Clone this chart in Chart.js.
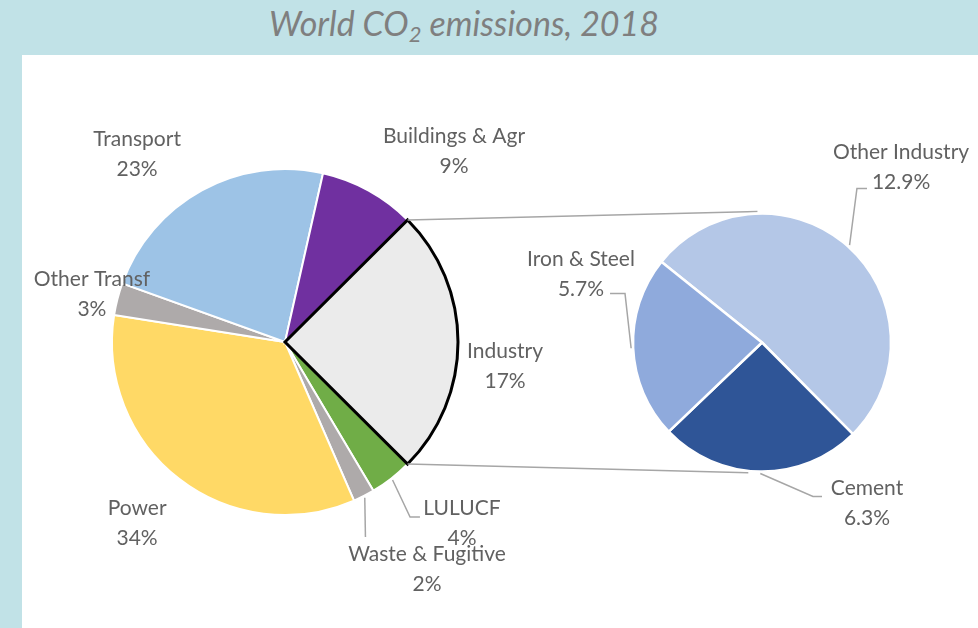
<!DOCTYPE html>
<html>
<head>
<meta charset="utf-8">
<script src="https://cdn.jsdelivr.net/npm/chart.js@4.4.0/dist/chart.umd.min.js"></script>
<style>
  html, body { margin: 0; padding: 0; }
  body { width: 978px; height: 628px; background: #c1e2e7; position: relative; overflow: hidden; font-family: Lato, sans-serif; }
  #title { position: absolute; left: 0; top: 3px; width: 928px; text-align: center; font-style: italic; font-size: 34px; line-height: 40px; color: #7f7f7f; }
  #title sub { font-size: 22px; line-height: 0; vertical-align: -6px; }
  #panel { position: absolute; left: 22px; top: 55px; width: 956px; height: 573px; background: #fff; }
  canvas { position: absolute; left: 0; top: 0; }
</style>
</head>
<body>
<div id="title">World CO<sub>2</sub> emissions, 2018</div>
<div id="panel">
  <canvas id="mainPie" width="956" height="573"></canvas>
  <canvas id="subPie" width="956" height="573"></canvas>
</div>
<script>
// main pie, clockwise; Industry last so its black outline sits on top
const mainCategories = ["LULUCF", "Waste & Fugitive", "Power", "Other Transf", "Transport", "Buildings & Agr", "Industry"];
const mainShares = [4, 2, 34, 3, 23, 9, 24.9];
const mainLabels = ["4%", "2%", "34%", "3%", "23%", "9%", "17%"];

// industry breakdown
const subCategories = ["Other Industry", "Cement", "Iron & Steel"];
const subShares = [12.9, 6.3, 5.7];
const subLabels = ["12.9%", "6.3%", "5.7%"];

const mainColors = ["#70ad47", "#aeaaaa", "#ffd966", "#aeaaaa", "#9dc3e6", "#7030a0", "#ebebeb"];
const subColors = ["#b4c7e7", "#2f5597", "#8faadc"];

// label spots and leader lines, in units of the pie radius from its centre
const mainLabelPos = [[1.023, 1.049], [0.821, 1.315], [-0.855, 1.046], [-1.116, -0.275], [-0.855, -1.087], [0.977, -1.101], [1.272, 0.139]];
const mainLeaders = [[[0.723, 1.012], [0.78, 1.012]], [[0.465, 1.127]], null, null, null, null, null];
const subLabelPos = [[1.078, -1.357], [0.814, 1.248], [-1.403, -0.527]];
const subLeaders = [[[0.736, -1.194], [0.814, -1.194]], [[0.395, 1.194], [0.465, 1.194]], [[-1.062, -0.38], [-1.178, -0.38]]];

const textColor = "#616161";
const lineColor = "#a6a6a6";

const pieLabels = {
  id: "pieLabels",
  afterDatasetsDraw(chart, args, opts) {
    const ctx = chart.ctx;
    const arcs = chart.getDatasetMeta(0).data;
    ctx.save();
    arcs.forEach((arc, i) => {
      const { x, y, outerRadius: r, startAngle, endAngle } = arc;
      const leader = opts.leaders[i];
      if (leader) {
        const mid = (startAngle + endAngle) / 2;
        ctx.beginPath();
        ctx.moveTo(x + Math.cos(mid) * (r + 2), y + Math.sin(mid) * (r + 2));
        leader.forEach(p => ctx.lineTo(x + p[0] * r, y + p[1] * r));
        ctx.strokeStyle = lineColor;
        ctx.lineWidth = 1.5;
        ctx.stroke();
      }
      const lx = x + opts.pos[i][0] * r;
      const ly = y + opts.pos[i][1] * r;
      ctx.font = "21px Lato";
      ctx.fillStyle = textColor;
      ctx.textAlign = "center";
      ctx.textBaseline = "middle";
      ctx.fillText(chart.data.labels[i], lx, ly - 15);
      ctx.fillText(opts.values[i], lx, ly + 15);
    });
    ctx.restore();
  }
};

// the two grey lines joining the Industry slice to the breakdown pie
const connector = {
  id: "connector",
  beforeDatasetsDraw(chart) {
    const ind = mainChart.getDatasetMeta(0).data[mainCategories.indexOf("Industry")];
    const sub = chart.getDatasetMeta(0).data[0];
    const ctx = chart.ctx;
    const targets = [-92, 96].map(a => a * Math.PI / 180);
    ctx.save();
    ctx.strokeStyle = lineColor;
    ctx.lineWidth = 1.5;
    [ind.startAngle, ind.endAngle].forEach((a, k) => {
      ctx.beginPath();
      ctx.moveTo(ind.x + Math.cos(a) * ind.outerRadius, ind.y + Math.sin(a) * ind.outerRadius);
      ctx.lineTo(sub.x + Math.cos(targets[k]) * (sub.outerRadius + 2), sub.y + Math.sin(targets[k]) * (sub.outerRadius + 2));
      ctx.stroke();
    });
    ctx.restore();
  }
};

const total = mainShares.reduce((a, b) => a + b, 0);
const industryShare = mainShares[mainCategories.indexOf("Industry")];

const mainChart = new Chart(document.getElementById("mainPie"), {
  type: "pie",
  data: {
    labels: mainCategories,
    datasets: [{
      data: mainShares,
      backgroundColor: mainColors,
      borderColor: mainCategories.map(c => c === "Industry" ? "#000000" : "#ffffff"),
      borderWidth: mainCategories.map(c => c === "Industry" ? 3 : 2),
      borderJoinStyle: "miter"
    }]
  },
  options: {
    responsive: false,
    animation: false,
    events: [],
    radius: 173,
    // keep Industry centred on the right-hand side
    rotation: 90 + industryShare / total * 180,
    layout: { padding: { left: 0, right: 430, top: 1, bottom: 0 } },
    plugins: {
      legend: { display: false },
      tooltip: { enabled: false },
      pieLabels: { pos: mainLabelPos, leaders: mainLeaders, values: mainLabels }
    }
  },
  plugins: [pieLabels]
});

const subChart = new Chart(document.getElementById("subPie"), {
  type: "pie",
  data: {
    labels: subCategories,
    datasets: [{
      data: subShares,
      backgroundColor: subColors,
      borderColor: "#ffffff",
      borderWidth: 2.5
    }]
  },
  options: {
    responsive: false,
    animation: false,
    events: [],
    radius: 129,
    rotation: -51.3,
    layout: { padding: { left: 524, right: 0, top: 2, bottom: 0 } },
    plugins: {
      legend: { display: false },
      tooltip: { enabled: false },
      pieLabels: { pos: subLabelPos, leaders: subLeaders, values: subLabels }
    }
  },
  plugins: [connector, pieLabels]
});
</script>
</body>
</html>
